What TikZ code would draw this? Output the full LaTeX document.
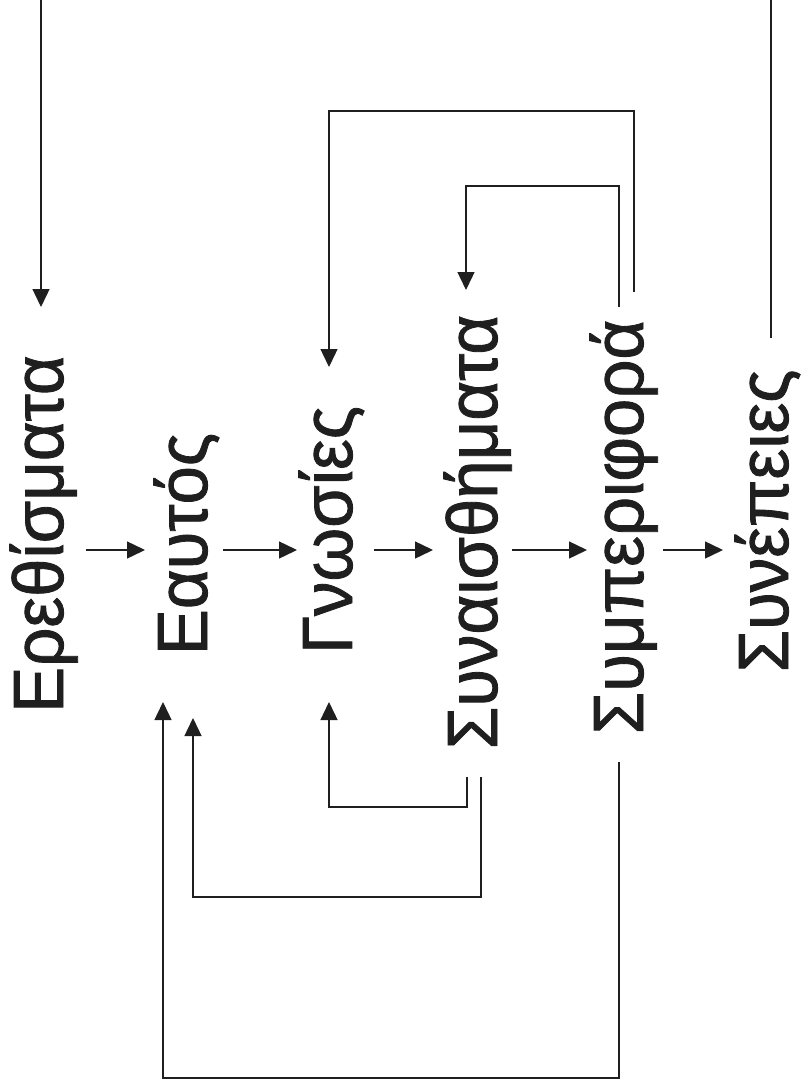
\documentclass[tikz,border=0pt]{standalone}
\usepackage{fontspec}
\setmainfont{Liberation Sans}
\newfontfamily\wordfont[FakeBold=1.2,FakeStretch=0.97]{Liberation Sans}
\usetikzlibrary{arrows.meta}
\begin{document}
\begin{tikzpicture}[x=1pt,y=-1pt,
  word/.style={rotate=90, anchor=base, inner sep=0pt, font=\wordfont\fontsize{71}{71}\selectfont, text=black!88},
  arr/.style={-{Triangle[length=18pt,width=17pt]}, line width=1.4pt, draw=black!88},
  ln/.style={line width=1.3pt, draw=black!88}]
\useasboundingbox (0,0) rectangle (806,1091);
% words
\node[word] (stim) at (63,534) {Ερεθίσματα};
\node[word] (self) at (207,544) {Εαυτός};
\node[word] (cog)  at (352,530) {Γνωσίες};
\node[word] (emo)  at (497,532) {Συναισθήματα};
\node[word] (beh)  at (643,527) {Συμπεριφορά};
\node[word] (con)  at (788,521) {Συνέπειες};
% anchor coordinates
\coordinate (s1) at (86,550);  \coordinate (e1) at (145,550);
\coordinate (s2) at (223,550); \coordinate (e2) at (297,550);
\coordinate (s3) at (374,550); \coordinate (e3) at (433,550);
\coordinate (s4) at (512,550); \coordinate (e4) at (587,550);
\coordinate (s5) at (663,550); \coordinate (e5) at (723,550);
\coordinate (topin) at (41,0);   \coordinate (stimtop) at (41,307);
\coordinate (conout) at (771,338); \coordinate (topout) at (771,0);
\coordinate (behA) at (634,292); \coordinate (cornA) at (329,111); \coordinate (cogtop) at (329,367);
\coordinate (behB) at (619,307); \coordinate (cornB) at (466,186); \coordinate (emotop) at (466,290);
\coordinate (emoA) at (467,777); \coordinate (cornC) at (329,807); \coordinate (cogbot) at (329,702);
\coordinate (emoB) at (481,777); \coordinate (cornD) at (193,897); \coordinate (selfbotB) at (193,718);
\coordinate (behC) at (619,762); \coordinate (cornE) at (163,1078); \coordinate (selfbotA) at (163,702);
% forward chain
\draw[arr] (s1) -- (e1);
\draw[arr] (s2) -- (e2);
\draw[arr] (s3) -- (e3);
\draw[arr] (s4) -- (e4);
\draw[arr] (s5) -- (e5);
% loop over top edge
\draw[arr] (topin) -- (stimtop);
\draw[ln] (conout) -- (topout);
% top feedback
\draw[arr] (behA) |- (cornA) -- (cogtop);
\draw[arr] (behB) |- (cornB) -- (emotop);
% bottom feedback
\draw[arr] (emoA) |- (cornC) -- (cogbot);
\draw[arr] (emoB) |- (cornD) -- (selfbotB);
\draw[arr] (behC) |- (cornE) -- (selfbotA);
\end{tikzpicture}
\end{document}
